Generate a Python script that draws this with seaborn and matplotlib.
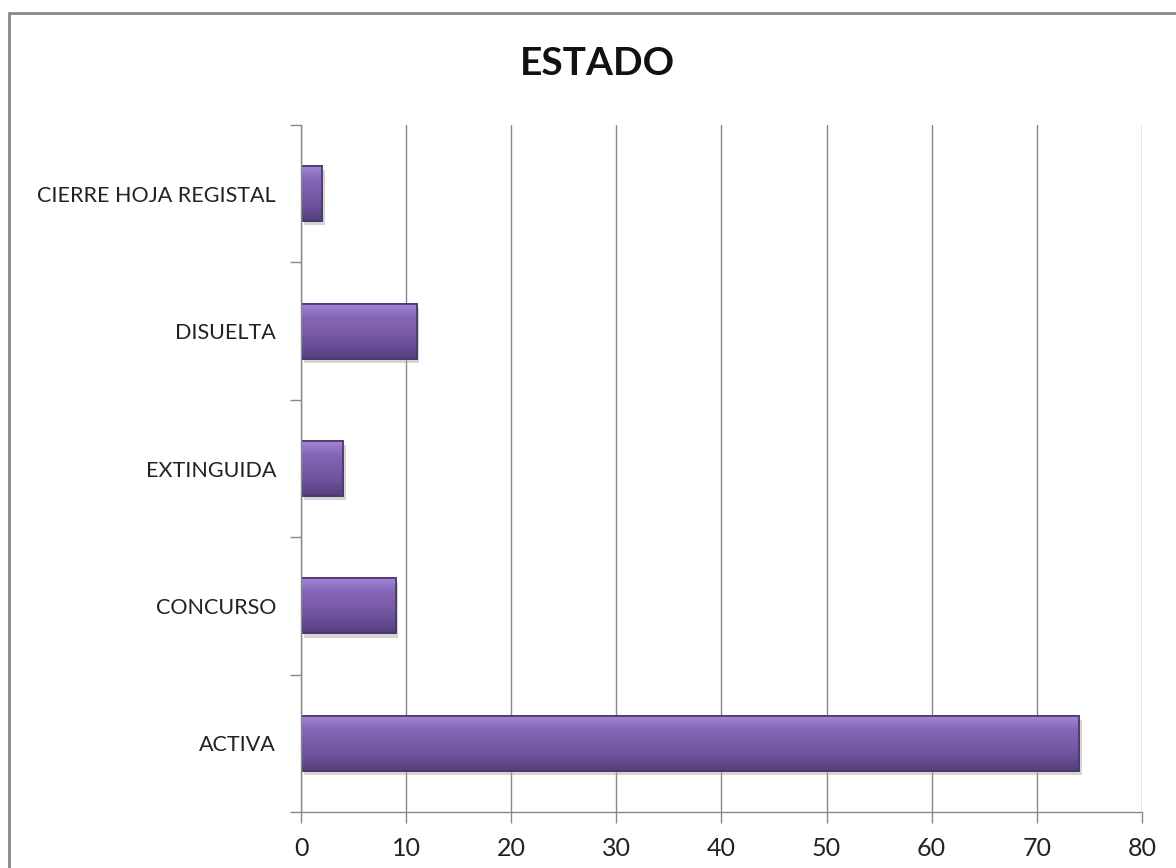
import matplotlib
matplotlib.use("Agg")
import matplotlib.pyplot as plt
import matplotlib.patheffects as pe
from matplotlib.colors import LinearSegmentedColormap
from matplotlib.patches import Rectangle
import numpy as np
import pandas as pd
import seaborn as sns

categories = ["CIERRE HOJA REGISTAL", "DISUELTA", "EXTINGUIDA", "CONCURSO", "ACTIVA"]
values = [2, 11, 4, 9, 74]
xticks = [0, 10, 20, 30, 40, 50, 60, 70, 80]

sns.set_theme(style="white")
plt.rcParams["font.family"] = ["Lato", "DejaVu Sans"]

df = pd.DataFrame({"estado": categories, "n": values})

fig = plt.figure(figsize=(11.76, 8.68), dpi=100)
ax = fig.add_axes([0.256, 0.0645, 0.715, 0.7915])

sns.barplot(data=df, x="n", y="estado", order=categories, orient="h",
            color="#7A5CA8", saturation=1, width=0.4,
            edgecolor="#4A3868", linewidth=1.2, ax=ax)

# bevel-like shading: vertical gradient clipped to each bar, edge redrawn on top
grad = LinearSegmentedColormap.from_list("bev", ["#A283D6", "#8466B6", "#7A5CA8", "#6B4F98", "#553F7C"])
for bar in list(ax.patches):
    bar.set_path_effects([pe.SimplePatchShadow(offset=(2, -3), shadow_rgbFace="#aaaaaa", alpha=0.5),
                          pe.Normal()])
    x0, y0 = bar.get_x(), bar.get_y()
    w, h = bar.get_width(), bar.get_height()
    z = bar.get_zorder()
    im = ax.imshow(np.linspace(0, 1, 64).reshape(-1, 1), cmap=grad, aspect="auto",
                   extent=(x0, x0 + w, y0 + h, y0), origin="upper", zorder=z + 0.1)
    im.set_clip_path(bar)
    ax.add_patch(Rectangle((x0, y0), w, h, fill=False, edgecolor="#4A3868", linewidth=1.2, zorder=z + 0.2))

ax.set_xlim(0, 80)
ax.set_ylim(len(categories) - 0.5, -0.5)
ax.set_xticks(xticks)
ax.set_xticklabels([str(t) for t in xticks], fontsize=18, color="#222222")
ax.set_yticks(range(len(categories)))
ax.set_yticklabels(categories, fontsize=15.5, color="#222222")
ax.set_yticks(np.arange(-0.5, len(categories), 1), minor=True)
ax.tick_params(axis="y", which="major", length=0, pad=18)
ax.tick_params(axis="y", which="minor", length=8, width=1, color="#888888", direction="out", left=True)
ax.tick_params(axis="x", length=8, width=1, color="#888888", direction="out", bottom=True, pad=10)

ax.xaxis.grid(True, color="#888888", linewidth=1)
ax.set_axisbelow(True)
for side in ["top", "right"]:
    ax.spines[side].set_visible(False)
for side in ["left", "bottom"]:
    ax.spines[side].set_color("#888888")
    ax.spines[side].set_linewidth(1)
ax.set_xlabel("")
ax.set_ylabel("")

fig.text(0.508, 0.927, "ESTADO", ha="center", va="center", fontsize=28, fontweight="bold", color="#111111")

fig.patches.append(Rectangle((9 / 1176, -0.05), 1.1, 1 - 13 / 868 + 0.05, transform=fig.transFigure,
                             fill=False, edgecolor="#888888", linewidth=2))

fig.savefig("out.png", dpi=100)
